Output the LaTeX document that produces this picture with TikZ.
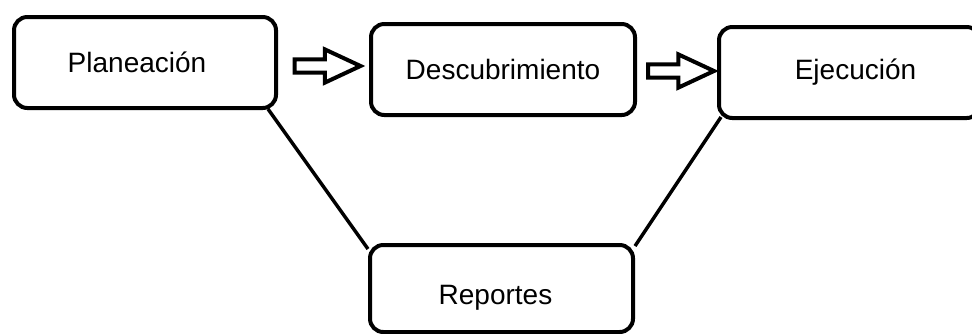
\documentclass[tikz,border=0pt]{standalone}
\usepackage{fontspec}
\setmainfont{Liberation Sans}
\usetikzlibrary{shapes.arrows,calc}
\begin{document}
\begin{tikzpicture}[x=0.75pt,y=-0.75pt,
  stagebox/.style={draw=black,line width=3pt,rounded corners=10pt,fill=white,
    inner sep=0pt,font=\fontsize{21pt}{25pt}\selectfont},
  blockarrow/.style={single arrow,draw=black,line width=3pt,fill=white,
    inner xsep=0pt,inner ysep=3.4pt,
    minimum height=49.5pt,minimum width=22pt,single arrow head extend=7.6pt,
    single arrow tip angle=50,single arrow head indent=0pt},
  link/.style={draw=black,line width=2.6pt}]
\useasboundingbox (0,0) rectangle (972,333);
\clip (0,0) rectangle (972,333);
\node[stagebox,minimum width=196.5pt,minimum height=68.25pt] (plan) at (145,62.5) {\hspace*{-12pt}Planeación};
\node[stagebox,minimum width=198pt,minimum height=68.25pt] (desc) at (503,69.5) {Descubrimiento};
\node[stagebox,minimum width=195.75pt,minimum height=68.25pt] (ejec) at (849.5,72.5) {\hspace*{9pt}Ejecución};
\node[stagebox,minimum width=197.25pt,minimum height=65.25pt,text height=24.5pt,text depth=0.4pt] (rep) at (501.5,288.5) {\hspace*{-9pt}Reportes};
\node[blockarrow,xshift=-2.25pt] (a1) at ($(plan.east)!0.5!(desc.west)$) {};
\node[blockarrow,xshift=-2.25pt] (a2) at ($(desc.east)!0.5!(ejec.west)$) {};
\draw[link] ([xshift=-7.5pt,yshift=0.75pt]plan.south east) -- ([yshift=-4.5pt]rep.north west);
\draw[link] ([xshift=3pt,yshift=2.25pt]ejec.south west) -- ([yshift=-2.25pt]rep.north east);
\end{tikzpicture}
\end{document}
